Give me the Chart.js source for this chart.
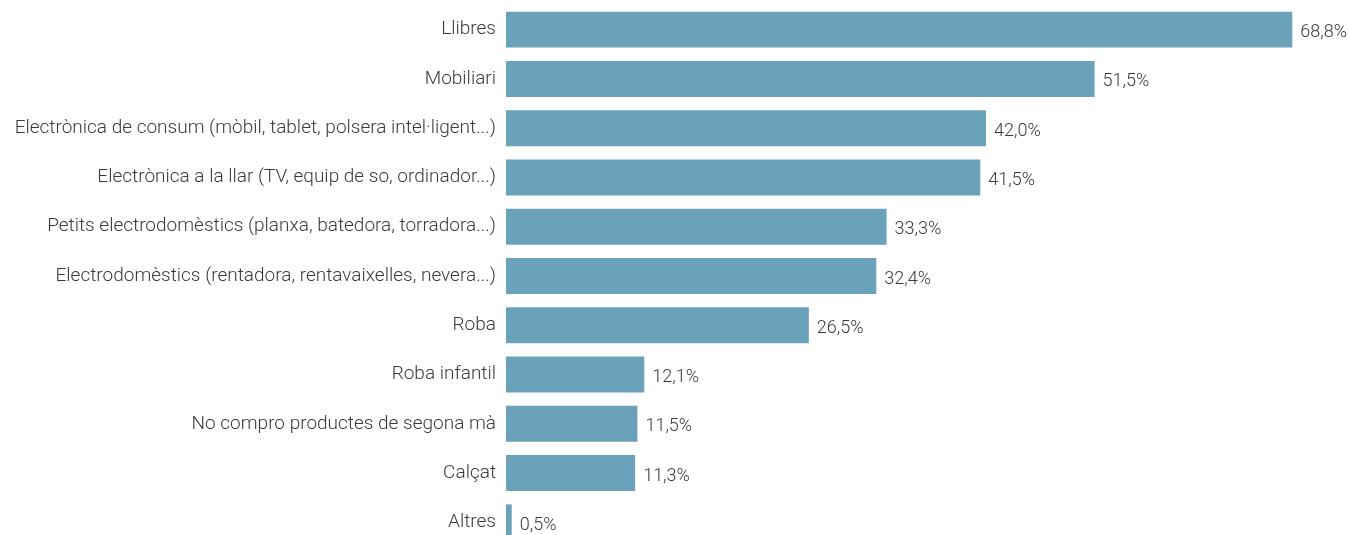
<!DOCTYPE html>
<html>
<head>
<meta charset="utf-8">
<script src="https://cdn.jsdelivr.net/npm/chart.js@4"></script>
<style>
  html, body { margin: 0; padding: 0; background: #fff; overflow: hidden; }
  #wrap { position: relative; width: 1349px; height: 547px; }
</style>
</head>
<body>
<div id="wrap"><canvas id="barChart"></canvas></div>
<script>
var categories = [
    'Llibres',
    'Mobiliari',
    'Electrònica de consum (mòbil, tablet, polsera intel·ligent...)',
    'Electrònica a la llar (TV, equip de so, ordinador...)',
    'Petits electrodomèstics (planxa, batedora, torradora...)',
    'Electrodomèstics (rentadora, rentavaixelles, nevera...)',
    'Roba',
    'Roba infantil',
    'No compro productes de segona mà',
    'Calçat',
    'Altres'
];
var percentages = [68.8, 51.5, 42.0, 41.5, 33.3, 32.4, 26.5, 12.1, 11.5, 11.3, 0.5];

var textColor = '#3a3a3a';
var fontFamily = 'Roboto, sans-serif';

function formatPct(v) {
    return v.toFixed(1).replace('.', ',') + '%';
}

// draws the value next to the end of every bar
var valueLabels = {
    id: 'valueLabels',
    afterDatasetsDraw(chart) {
        var ctx = chart.ctx;
        var meta = chart.getDatasetMeta(0);
        ctx.save();
        ctx.font = '300 18px ' + fontFamily;
        ctx.fillStyle = textColor;
        ctx.textAlign = 'left';
        ctx.textBaseline = 'middle';
        meta.data.forEach(function (bar, i) {
            ctx.fillText(formatPct(percentages[i]), bar.x + 8, bar.y + 3);
        });
        ctx.restore();
    }
};

new Chart(document.getElementById('barChart'), {
    type: 'bar',
    data: {
        labels: categories,
        datasets: [{
            data: percentages,
            backgroundColor: '#6aa2ba',
            borderWidth: 0,
            barPercentage: 0.73,
            categoryPercentage: 1.0
        }]
    },
    options: {
        indexAxis: 'y',
        responsive: true,
        maintainAspectRatio: false,
        animation: false,
        layout: { padding: { top: 5, right: 43, bottom: 0, left: 0 } },
        plugins: {
            legend: { display: false },
            tooltip: { enabled: false }
        },
        scales: {
            x: {
                display: false,
                min: 0,
                max: 70
            },
            y: {
                afterFit(scale) {
                    scale.width = 506;
                    scale.paddingTop = 0;
                    scale.paddingBottom = 0;
                },
                grid: { display: false, drawTicks: false },
                border: { display: false },
                ticks: {
                    padding: 10,
                    color: textColor,
                    font: { family: fontFamily, size: 19, weight: 300 }
                }
            }
        }
    },
    plugins: [valueLabels]
});
</script>
</body>
</html>
